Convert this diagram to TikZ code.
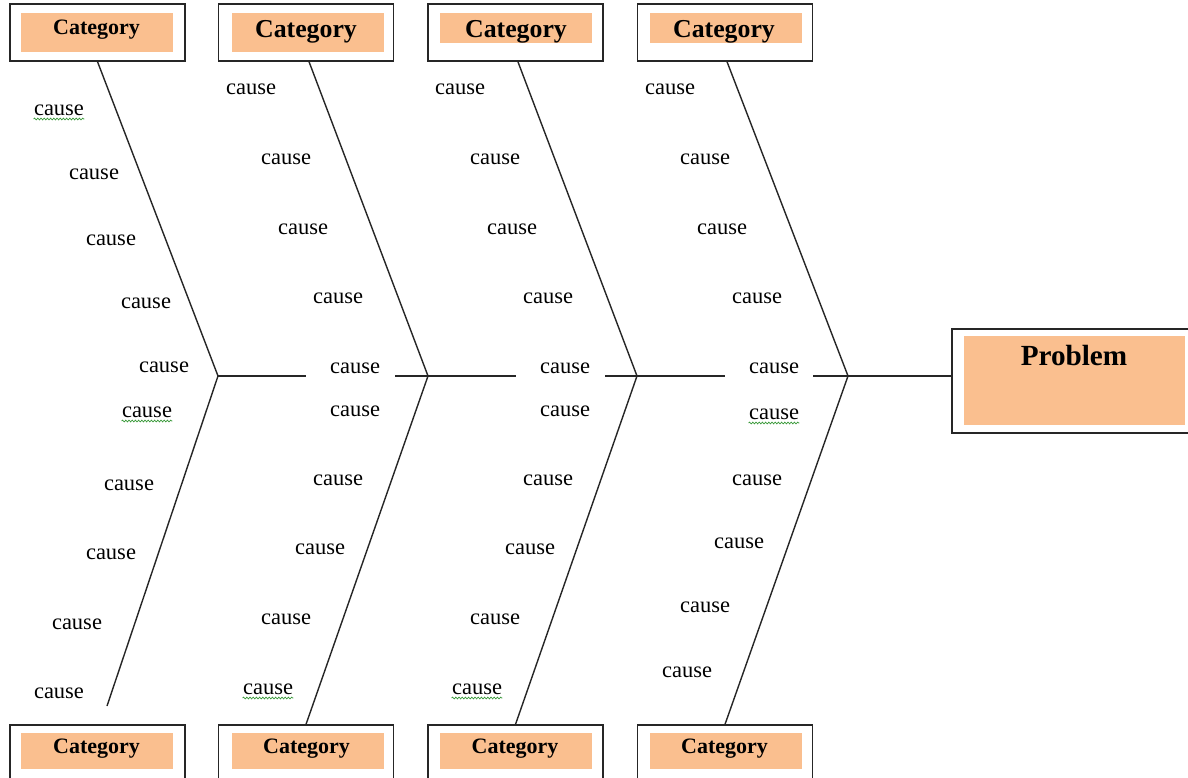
\documentclass[tikz,border=0pt]{standalone}
\usepackage{fontspec}
\setmainfont{Liberation Serif}
\usetikzlibrary{decorations.pathmorphing}
\definecolor{catfill}{HTML}{FABF8F}
\definecolor{squigcol}{HTML}{3A9A3A}
\begin{document}
\begin{tikzpicture}[x=0.5pt,y=-0.5pt,
  outerbox/.style={draw=black!85, line width=0.65pt, fill=white, minimum width=87.5pt, minimum height=28.5pt, inner sep=0pt},
  innerbox/.style={fill=catfill, minimum width=76pt, inner sep=0pt},
  cattext/.style={inner sep=0pt, yshift=-1.5pt, font=\bfseries\fontsize{11}{13}\selectfont},
  cattextbig/.style={inner sep=0pt, yshift=-1.5pt, font=\bfseries\fontsize{12.9}{15}\selectfont},
  causetext/.style={inner sep=0pt, yshift=-1pt, font=\fontsize{11.25}{13}\selectfont},
  bone/.style={draw=black!85, line width=0.7pt},
  squig/.style={draw=squigcol, line width=0.35pt, decorate, decoration={snake, amplitude=0.45pt, segment length=1.6pt}}
]
\clip (0,0) rectangle (1188,777);
\fill[white] (0,0) rectangle (1188,777);

% vertices of the bones and spine
\coordinate (v1) at (218,376);
\coordinate (v2) at (428,376);
\coordinate (v3) at (637,376);
\coordinate (v4) at (848,376);
\coordinate (e1) at (107,706);
\coordinate (s1) at (306,376);
\coordinate (s2) at (395,376);
\coordinate (s3) at (516,376);
\coordinate (s4) at (605,376);
\coordinate (s5) at (725,376);
\coordinate (s6) at (813,376);

% top category boxes
\node[outerbox] (t1) at (97.5,32.5) {};
\node[outerbox] (t2) at (306,32.5) {};
\node[outerbox] (t3) at (515.5,32.5) {};
\node[outerbox] (t4) at (725,32.5) {};
\node[innerbox, minimum height=19.5pt] (ti1) at (97,32.5) {};
\node[innerbox, minimum height=19.5pt] (ti2) at (307.5,32.5) {};
\node[innerbox, minimum height=15pt] (ti3) at (516,28) {};
\node[innerbox, minimum height=15pt] (ti4) at (725.5,28) {};
\node[cattext] (tt1) at (96.5,27) {Category};
\node[cattextbig] (tt2) at (306,29) {Category};
\node[cattextbig] (tt3) at (516,29) {Category};
\node[cattextbig] (tt4) at (724,29) {Category};

% bottom category boxes
\node[outerbox, minimum height=30pt] (b1) at (97.5,755) {};
\node[outerbox, minimum height=30pt] (b2) at (306,755) {};
\node[outerbox, minimum height=30pt] (b3) at (515.5,755) {};
\node[outerbox, minimum height=30pt] (b4) at (725,755) {};
\node[innerbox, minimum height=18pt] (bi1) at (97,751) {};
\node[innerbox, minimum height=18pt] (bi2) at (307.5,751) {};
\node[innerbox, minimum height=18pt] (bi3) at (516,751) {};
\node[innerbox, minimum height=18pt] (bi4) at (725.5,751) {};
\node[cattext] (bt1) at (96.5,746) {Category};
\node[cattext] (bt2) at (306.5,746) {Category};
\node[cattext] (bt3) at (515,746) {Category};
\node[cattext] (bt4) at (724.5,746) {Category};

% problem box
\node[outerbox, minimum width=121.5pt, minimum height=52pt] (prob) at (1073.5,381) {};
\node[fill=catfill, minimum width=110.5pt, minimum height=44.5pt, inner sep=0pt] (probin) at (1074.5,380.5) {};
\node[inner sep=0pt, yshift=-1.5pt, font=\bfseries\fontsize{14.6}{17}\selectfont] (probt) at (1074,353) {Problem};

% bones
\draw[bone] (t1.south) -- (v1) -- (e1);
\draw[bone] ([xshift=1.5pt]t2.south) -- (v2) -- (b2.north);
\draw[bone] ([xshift=1.2pt]t3.south) -- (v3) -- (b3.north);
\draw[bone] ([xshift=1pt]t4.south) -- (v4) -- (b4.north);

% spine
\draw[bone] (v1) -- (s1);
\draw[bone] (s2) -- (v2) -- (s3);
\draw[bone] (s4) -- (v3) -- (s5);
\draw[bone] (s6) -- (v4) -- (v4 -| prob.west);

% causes
\foreach \px/\py [count=\i] in {
  59/108, 94/172, 111/238, 146/301, 164/365, 147/410, 129/483, 111/552, 77/622, 59/691,
  251/87, 286/157, 303/227, 338/296, 355/366, 355/409, 338/478, 320/547, 286/617, 268/687,
  460/87, 495/157, 512/227, 548/296, 565/366, 565/409, 548/478, 530/547, 495/617, 477/687,
  670/87, 705/157, 722/227, 757/296, 774/366, 774/412, 757/478, 739/541, 705/605, 687/670}
  \node[causetext] (c\i) at (\px,\py) {cause};

% spell-check underlines
\foreach \i in {1,6,20,30,36}
  \draw[squig] ([yshift=-1.6pt]c\i.south west) -- ([yshift=-1.6pt]c\i.south east);
\end{tikzpicture}
\end{document}
